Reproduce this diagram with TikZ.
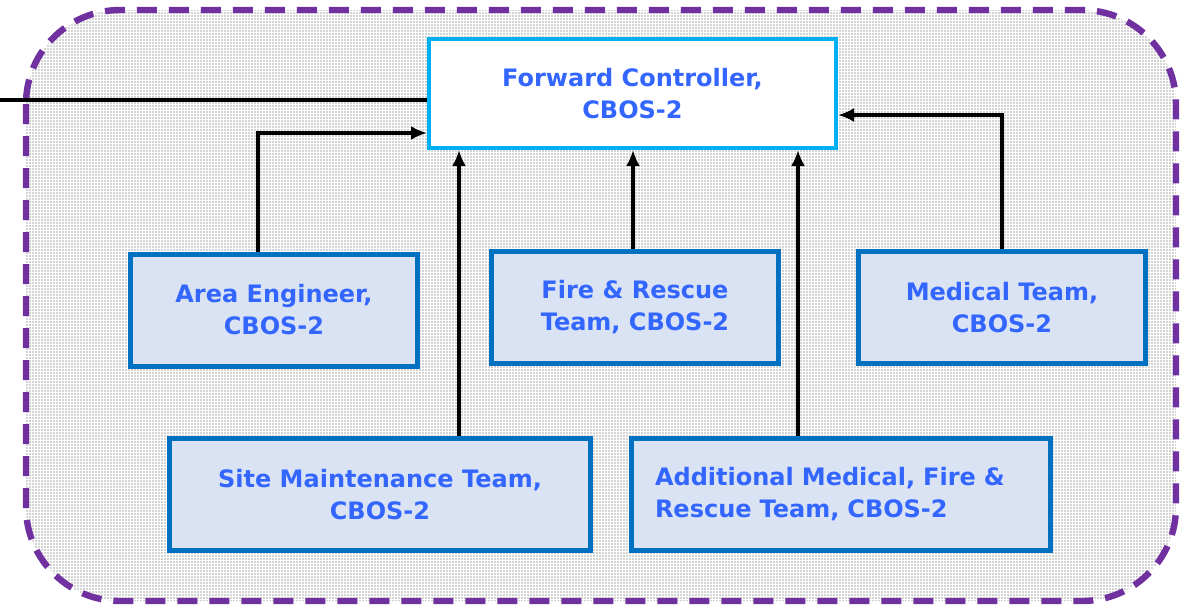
\documentclass[tikz,border=0pt]{standalone}
\usepackage{fontspec}
\setmainfont{DejaVu Sans}
\usepackage{xcolor}
\usepackage{tikz}
\usetikzlibrary{arrows.meta,positioning,calc,patterns.meta}

\definecolor{teamblue}{RGB}{0,112,192}
\definecolor{teamfill}{RGB}{218,227,243}
\definecolor{labelblue}{RGB}{51,102,255}
\definecolor{ctrlcyan}{RGB}{0,176,240}
\definecolor{zonepurple}{RGB}{112,48,160}

\begin{document}
\begin{tikzpicture}[
  x=0.5pt, y=-0.5pt,
  >=Latex,
  font=\fontsize{12}{16}\selectfont\bfseries,
  team/.style={draw=teamblue, line width=2.5pt, fill=teamfill, text=labelblue, align=center, minimum width=143.5pt, minimum height=56pt, inner sep=0pt},
  ctrl/.style={draw=ctrlcyan, line width=2pt, fill=white, text=labelblue, align=center, minimum width=203.5pt, minimum height=54.5pt, inner sep=0pt},
  line/.style={line width=2pt, -{Latex[length=8pt,width=7pt]}},
  zone/.style={draw=zonepurple, line width=3.2pt, dash pattern=on 10pt off 6pt, rounded corners=47pt}
]
\useasboundingbox (0,0) rectangle (1185,607);

% operating zone
\draw[zone, preaction={fill=white}, pattern={Dots[distance=1.5pt, radius=0.4pt]}, pattern color=gray!70]
  (26,10) rectangle (1176,601);

\node[ctrl] (fwd) at (632.5,93.5) {Forward Controller,\\CBOS-2};
\node[team] (area) at (274,310) {Area Engineer,\\CBOS-2};
\node[team] (fire) at (635,307) {Fire \& Rescue\\Team, CBOS-2};
\node[team] (med) at (1002,307.5) {Medical Team,\\CBOS-2};
\node[team, minimum width=210.5pt] (site) at (380,494.5) {Site Maintenance Team,\\CBOS-2};
\node[team, minimum width=209.5pt, text width=186pt, align=left] (addl) at (841,494.5) {Additional Medical, Fire \&\\Rescue Team, CBOS-2};

\coordinate (ext) at (0,100);

\draw[line width=2pt] (ext) -- (ext -| fwd.west);
\draw[line] ([xshift=-8pt]area.north) |- ([yshift=-19.75pt]fwd.west);
\draw[line] ([xshift=39.5pt]site.north) -- ([xshift=39.5pt]site.north |- fwd.south);
\draw[line] (fire.north -| 633,0) -- (fwd.south -| 633,0);
\draw[line] ([xshift=-21.5pt]addl.north) -- ([xshift=-21.5pt]addl.north |- fwd.south);
\draw[line] (med.north) |- ([yshift=-10.75pt]fwd.east);

\end{tikzpicture}
\end{document}
